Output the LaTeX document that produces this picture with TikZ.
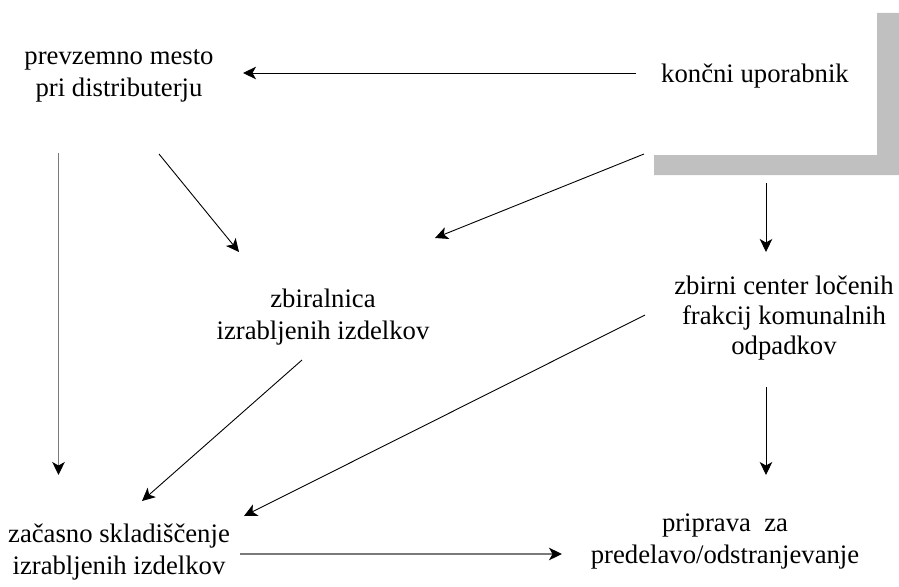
\documentclass[tikz,border=0pt]{standalone}
\usepackage{fontspec}
\setmainfont{Liberation Serif}
\usetikzlibrary{arrows.meta}
\definecolor{barfill}{HTML}{C0C0C0}
\definecolor{softline}{HTML}{7A7A7A}
\begin{document}
\begin{tikzpicture}[x=1pt,y=-1pt,
  label/.style={inner sep=0pt,anchor=base,font=\fontsize{26.7}{32}\selectfont},
  flow/.style={line width=0.9pt,-{Stealth[length=13pt,width=12.5pt,inset=3.5pt]}},
  softflow/.style={flow,draw=softline,line width=1.8pt,
    -{Stealth[length=13pt,width=12.5pt,inset=3.5pt,color=black]}}]
  \useasboundingbox (0,0) rectangle (899,586);

  % L-shaped grey frame at the consumer corner
  \fill[barfill] (877,13) -- (899,13) -- (899,175) -- (654,175)
    -- (654,155) -- (877,155) -- cycle;

  % stations
  \node[label] (A) at (119,65)
    {\setlength{\tabcolsep}{0pt}\begin{tabular}[t]{c}prevzemno mesto\\pri distributerju\end{tabular}};
  \node[label] (B) at (755,82) {končni uporabnik};
  \node[label] (C) at (323,307)
    {\setlength{\tabcolsep}{0pt}\begin{tabular}[t]{c}zbiralnica\\izrabljenih izdelkov\end{tabular}};
  \node[label,font=\fontsize{26.7}{30}\selectfont] (D) at (784,294)
    {\setlength{\tabcolsep}{0pt}\begin{tabular}[t]{c}zbirni center ločenih\\frakcij komunalnih\\odpadkov\end{tabular}};
  \node[label] (E) at (119,542)
    {\setlength{\tabcolsep}{0pt}\begin{tabular}[t]{c}začasno skladiščenje\\izrabljenih izdelkov\end{tabular}};
  \node[label] (F) at (725,531)
    {\setlength{\tabcolsep}{0pt}\begin{tabular}[t]{c}priprava\ \ za\\predelavo/odstranjevanje\end{tabular}};

  % connector ends beside the stations
  \coordinate (B-left)   at (636,73);
  \coordinate (A-right)  at (243,73);
  \coordinate (A-down)   at (58.5,153);
  \coordinate (E-top)    at (58.5,475);
  \coordinate (A-diag)   at (159,154);
  \coordinate (C-left)   at (239,252);
  \coordinate (B-diag)   at (644,154);
  \coordinate (C-right)  at (435,238);
  \coordinate (B-down)   at (766,183);
  \coordinate (D-top)    at (766,252);
  \coordinate (C-out)    at (302,360);
  \coordinate (E-upper)  at (142,501);
  \coordinate (D-out)    at (645,315);
  \coordinate (E-right)  at (244,516);
  \coordinate (D-down)   at (766,387);
  \coordinate (F-top)    at (766,475);
  \coordinate (E-out)    at (240,554);
  \coordinate (F-left)   at (562,554);

  % flows
  \draw[flow] (B-left) -- (A-right);
  \draw[softflow] (A-down) -- (E-top);
  \draw[flow] (A-diag) -- (C-left);
  \draw[flow] (B-diag) -- (C-right);
  \draw[flow] (B-down) -- (D-top);
  \draw[flow] (C-out) -- (E-upper);
  \draw[flow] (D-out) -- (E-right);
  \draw[flow] (D-down) -- (F-top);
  \draw[softflow] (E-out) -- (F-left);
\end{tikzpicture}
\end{document}
